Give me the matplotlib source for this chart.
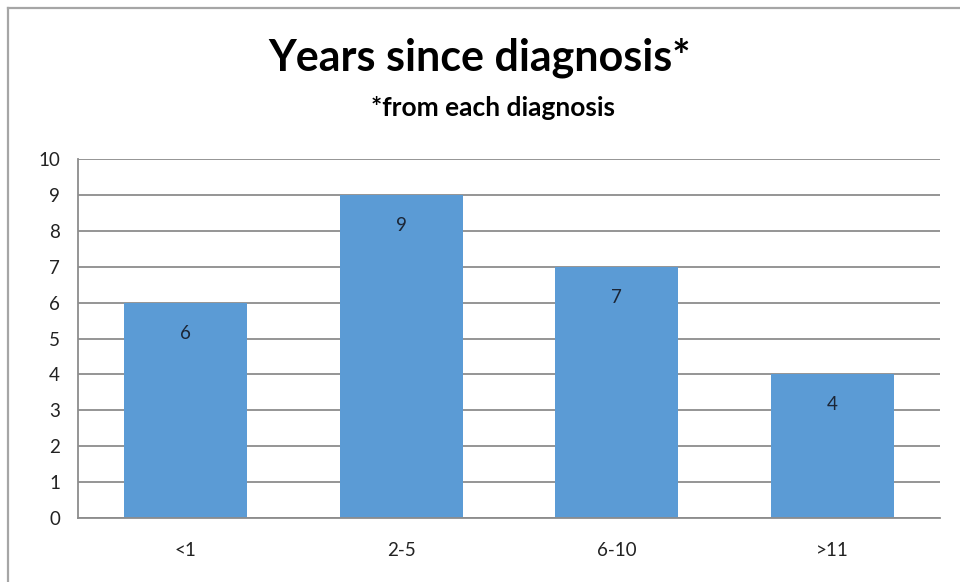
import matplotlib
matplotlib.use('Agg')
import matplotlib.pyplot as plt
from matplotlib.lines import Line2D

# data
categories = ['<1', '2-5', '6-10', '>11']
counts = [6, 9, 7, 4]
yticks = [0, 1, 2, 3, 4, 5, 6, 7, 8, 9, 10]

plt.rcParams['font.family'] = ['Lato', 'DejaVu Sans']

# initialize figure
figw, figh = 960, 582
fig = plt.figure(figsize=(figw/100.0, figh/100.0), dpi=100)
ax = fig.add_axes([78/figw, 1-518/figh, 862/figw, 359/figh])

# outer chart border (top and left edges only visible)
fig.add_artist(Line2D([8/figw, 1.0], [1-8/figh, 1-8/figh], color='#a6a6a6',
                      lw=1.6, transform=fig.transFigure))
fig.add_artist(Line2D([8/figw, 8/figw], [0.0, 1-8/figh], color='#a6a6a6',
                      lw=1.6, transform=fig.transFigure))

# gridlines
ax.set_axisbelow(True)
ax.yaxis.grid(True, color='#8c8c8c', lw=1.3)

# bars
x = range(len(categories))
bars = ax.bar(x, counts, width=0.57, color='#5b9bd5', zorder=2)

# value labels inside top of bars
for b, v in zip(bars, counts):
    ax.annotate('%d' % v, (b.get_x()+b.get_width()/2, v), xytext=(0, -22),
                textcoords='offset points', ha='center', va='center',
                fontsize=13.5, color='#1c2636', zorder=3)

# set axes properties
ax.set_xlim(-0.5, len(categories)-0.5)
ax.set_ylim(0, 10)
ax.set_yticks(yticks)
ax.set_xticks(list(x))
ax.set_xticklabels(categories)
ax.tick_params(axis='both', length=0, labelsize=13.5, colors='#222222')
ax.tick_params(axis='x', pad=17)
ax.tick_params(axis='y', pad=13)
for s in ['top', 'right']:
    ax.spines[s].set_visible(False)
ax.spines['left'].set_color('#8c8c8c')
ax.spines['bottom'].set_color('#8c8c8c')
ax.spines['left'].set_linewidth(1.3)
ax.spines['bottom'].set_linewidth(1.3)

# titles
fig.text(0.5, 1-58/figh, 'Years since diagnosis*', ha='center', va='center',
         fontsize=31, fontweight='bold', color='black')
fig.text(493/figw, 1-108/figh, '*from each diagnosis', ha='center',
         va='center', fontsize=19, fontweight='bold', color='black')

fig.savefig('out.png', dpi=100)
